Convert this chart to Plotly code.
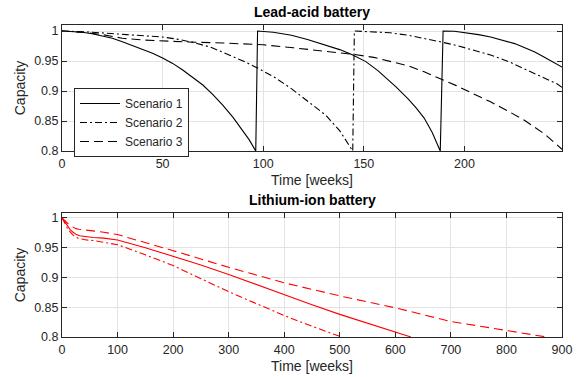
import plotly.graph_objects as go

# ---------------- Lead-acid battery (top) ----------------
lead_s1_t = [0, 5, 10, 15, 20, 25, 30, 35, 40, 45, 50, 55, 60, 65, 70, 75, 80, 85, 90, 93, 96.3,
             97.2, 105, 114, 122, 131, 138, 144, 151, 157, 163, 166, 172, 176, 180, 184, 188,
             189.4, 195, 201, 207, 213, 220, 225, 230, 235, 240, 244, 248.5]
lead_s1_v = [1.0, 0.9995, 0.998, 0.9955, 0.992, 0.988, 0.982, 0.976, 0.970, 0.963, 0.955, 0.946,
             0.935, 0.923, 0.910, 0.894, 0.876, 0.856, 0.834, 0.819, 0.800,
             1.0, 0.998, 0.993, 0.986, 0.976, 0.969, 0.961, 0.949, 0.934, 0.916, 0.907, 0.887,
             0.872, 0.855, 0.831, 0.800,
             1.0, 0.9995, 0.997, 0.994, 0.990, 0.984, 0.979, 0.972, 0.965, 0.956, 0.948, 0.940]

lead_s2_t = [0, 15, 32, 50, 58, 65, 74, 82, 90, 98, 106, 114, 122, 131, 138, 144.5,
             145.3, 150, 163, 172, 180, 188, 196, 204, 213, 222, 230, 238, 246, 248.5]
lead_s2_v = [1.0, 0.998, 0.994, 0.990, 0.986, 0.981, 0.973, 0.962, 0.950, 0.937, 0.922, 0.904,
             0.884, 0.860, 0.834, 0.800,
             1.0, 0.9995, 0.997, 0.993, 0.988, 0.982, 0.976, 0.969, 0.960, 0.949, 0.937, 0.925,
             0.912, 0.906]

lead_s3_t = [0, 10, 20, 30, 40, 50, 60, 80, 100, 115, 130, 145, 155, 163, 172, 180, 188, 196,
             204, 213, 222, 230, 240, 248.5]
lead_s3_v = [1.0, 0.998, 0.994, 0.988, 0.985, 0.983, 0.982, 0.980, 0.977, 0.972, 0.967, 0.961,
             0.956, 0.950, 0.942, 0.932, 0.921, 0.909, 0.896, 0.882, 0.866, 0.851, 0.828, 0.803]

# ---------------- Lithium-ion battery (bottom) ----------------
li_s1_t = [0, 5, 10, 15, 20, 26, 32, 44, 56, 75, 100, 150, 200, 250, 300, 350, 400, 450, 500,
           550, 600, 628]
li_s1_v = [1.0, 0.993, 0.985, 0.980, 0.976, 0.972, 0.970, 0.968, 0.967, 0.966, 0.963, 0.950,
           0.936, 0.921, 0.905, 0.888, 0.870, 0.854, 0.838, 0.823, 0.808, 0.800]

li_s2_t = [0, 5, 10, 15, 20, 26, 32, 44, 56, 75, 100, 150, 200, 250, 300, 350, 400, 450, 503]
li_s2_v = [1.0, 0.991, 0.982, 0.976, 0.971, 0.967, 0.965, 0.963, 0.962, 0.959, 0.955, 0.938,
           0.920, 0.898, 0.876, 0.856, 0.836, 0.818, 0.800]

li_s3_t = [0, 5, 10, 15, 20, 25, 30, 50, 75, 100, 150, 200, 250, 300, 400, 500, 600, 700, 800, 872]
li_s3_v = [1.0, 0.995, 0.991, 0.987, 0.984, 0.982, 0.981, 0.979, 0.976, 0.972, 0.959, 0.945,
           0.931, 0.917, 0.891, 0.869, 0.849, 0.826, 0.811, 0.800]

names = ["Scenario 1", "Scenario 2", "Scenario 3"]
y_ticks = [0.8, 0.85, 0.9, 0.95, 1.0]
y_tick_text = ["0.8", "0.85", "0.9", "0.95", "1"]
lead_x_ticks = [0, 50, 100, 150, 200]
li_x_ticks = [0, 100, 200, 300, 400, 500, 600, 700, 800, 900]

DASH = "9px,5px"
DASHDOT = "7px,3px,2px,3px"
dashes = ["solid", DASHDOT, DASH]
TXT = "#262626"
GRID = "#e3e3e3"

fig = go.Figure()
for t, v, n, d in zip([lead_s1_t, lead_s2_t, lead_s3_t], [lead_s1_v, lead_s2_v, lead_s3_v], names, dashes):
    fig.add_trace(go.Scatter(x=t, y=v, mode="lines", name=n, line=dict(color="black", width=1.1, dash=d),
                             xaxis="x", yaxis="y"))
for t, v, n, d in zip([li_s1_t, li_s2_t, li_s3_t], [li_s1_v, li_s2_v, li_s3_v], names, dashes):
    fig.add_trace(go.Scatter(x=t, y=v, mode="lines", name=n, showlegend=False,
                             line=dict(color="#ff0000", width=1.1, dash=d),
                             xaxis="x2", yaxis="y2"))

axis_common = dict(showline=True, linecolor=TXT, linewidth=1, mirror="allticks", ticks="inside",
                   ticklen=5, tickcolor=TXT, showgrid=True, gridcolor=GRID, gridwidth=1,
                   zeroline=False, tickfont=dict(size=12.5, color=TXT), automargin=False,
                   title_font=dict(size=14, color=TXT))

fig.update_layout(
    width=583, height=377,
    margin=dict(l=62, r=21, t=25, b=40, autoexpand=False),
    paper_bgcolor="white", plot_bgcolor="white",
    font=dict(family="Liberation Sans, Arial, sans-serif", color=TXT),
    xaxis=dict(domain=[0, 1], range=[0, 248.5], tickvals=lead_x_ticks, anchor="y",
               ticklabelstandoff=1, title=dict(text="Time [weeks]", standoff=5), **axis_common),
    yaxis=dict(domain=[0.596, 1.0], range=[0.8, 1.01], tickvals=y_ticks, ticktext=y_tick_text, anchor="x",
               title=dict(text="Capacity", standoff=5), **axis_common),
    xaxis2=dict(domain=[0, 1], range=[0, 900], tickvals=li_x_ticks, anchor="y2",
                ticklabelstandoff=1, title=dict(text="Time [weeks]", standoff=5), **axis_common),
    yaxis2=dict(domain=[0, 0.397], range=[0.8, 1.008], tickvals=y_ticks, ticktext=y_tick_text, anchor="x2",
                title=dict(text="Capacity", standoff=5), **axis_common),
    legend=dict(x=0.024, y=0.798, xanchor="left", yanchor="top", bgcolor="white",
                bordercolor=TXT, borderwidth=1, font=dict(size=12, color=TXT),
                tracegroupgap=0, itemwidth=40),
    showlegend=True,
    annotations=[
        dict(text="<b>Lead-acid battery</b>", x=0.5, y=1.042, xref="paper", yref="paper",
             xanchor="center", yanchor="middle", showarrow=False, font=dict(size=14, color="black")),
        dict(text="<b>Lithium-ion battery</b>", x=0.5, y=0.439, xref="paper", yref="paper",
             xanchor="center", yanchor="middle", showarrow=False, font=dict(size=14, color="black")),
    ],
)

fig.write_html("out.html")
